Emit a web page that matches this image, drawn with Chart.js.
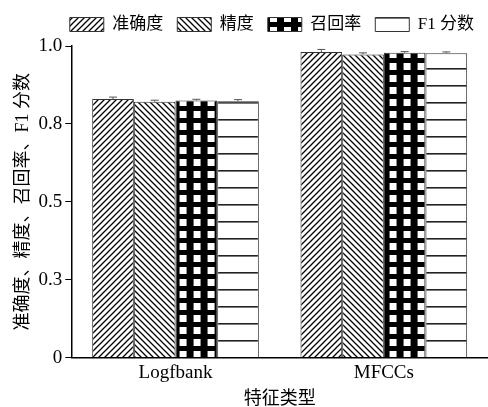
<!DOCTYPE html>
<html>
<head>
<meta charset="utf-8">
<script src="https://cdn.jsdelivr.net/npm/chart.js@4/dist/chart.umd.min.js"></script>
<style>
  html, body { margin: 0; padding: 0; background: #fff; }
  #wrap { width: 488px; height: 407px; }
</style>
</head>
<body>
<div id="wrap"><canvas id="chart"></canvas></div>
<script>
const categories = ['Logfbank', 'MFCCs'];
const seriesNames = ['准确度', '精度', '召回率', 'F1 分数'];
const accuracy = [0.830, 0.981];
const precision = [0.821, 0.973];
const recall = [0.825, 0.978];
const f1 = [0.823, 0.977];
const accuracyErr = [0.006, 0.008];
const precisionErr = [0.005, 0.005];
const recallErr = [0.004, 0.004];
const f1Err = [0.005, 0.004];
const yTicks = [0, 0.25, 0.5, 0.75, 1.0];
const yTickLabels = ['0', '0.3', '0.5', '0.8', '1.0'];

const serif = '"Liberation Serif", "Noto Sans CJK SC", serif';

const makePattern = (w, h, draw) => {
  const c = document.createElement('canvas');
  c.width = w; c.height = h;
  const g = c.getContext('2d');
  draw(g, w, h);
  return g.createPattern(c, 'repeat');
};

// "/" hatch
const slashPattern = makePattern(6, 6, (g, w, h) => {
  g.fillStyle = '#fff'; g.fillRect(0, 0, w, h);
  g.strokeStyle = '#000'; g.lineWidth = 1.3;
  g.beginPath();
  g.moveTo(-1, h + 1); g.lineTo(w + 1, -1);
  g.moveTo(-1, 1); g.lineTo(1, -1);
  g.moveTo(w - 1, h + 1); g.lineTo(w + 1, h - 1);
  g.stroke();
});

// "\" hatch
const backslashPattern = makePattern(6, 6, (g, w, h) => {
  g.fillStyle = '#fff'; g.fillRect(0, 0, w, h);
  g.strokeStyle = '#000'; g.lineWidth = 1.3;
  g.beginPath();
  g.moveTo(-1, -1); g.lineTo(w + 1, h + 1);
  g.moveTo(w - 1, -1); g.lineTo(w + 1, 1);
  g.moveTo(-1, h - 1); g.lineTo(1, h + 1);
  g.stroke();
});

// black with white squares
const gridPattern = makePattern(14, 12, (g, w, h) => {
  g.fillStyle = '#000'; g.fillRect(0, 0, w, h);
  g.fillStyle = '#fff'; g.fillRect(4, 3, 7, 7);
});

// horizontal lines
const linePattern = makePattern(8, 17, (g, w, h) => {
  g.fillStyle = '#fff'; g.fillRect(0, 0, w, h);
  g.fillStyle = '#222'; g.fillRect(0, 0, w, 1.6);
});

const errors = [accuracyErr, precisionErr, recallErr, f1Err];

const errorBars = {
  id: 'errorBars',
  beforeDatasetsDraw(chart) {
    const b = chart.getDatasetMeta(2).data[0];
    if (b) gridPattern.setTransform(new DOMMatrix().translate(b.x - b.width / 2, 0));
  },
  afterDatasetsDraw(chart) {
    const ctx = chart.ctx;
    const y = chart.scales.y;
    ctx.save();
    ctx.strokeStyle = '#555';
    ctx.lineWidth = 1;
    chart.data.datasets.forEach((ds, i) => {
      chart.getDatasetMeta(i).data.forEach((bar, j) => {
        const v = ds.data[j];
        const e = errors[i][j];
        const top = y.getPixelForValue(v + e);
        const base = y.getPixelForValue(v);
        ctx.beginPath();
        ctx.moveTo(bar.x, base);
        ctx.lineTo(bar.x, top);
        ctx.moveTo(bar.x - 4, top);
        ctx.lineTo(bar.x + 4, top);
        ctx.stroke();
      });
    });
    ctx.restore();
  }
};

// a little more room under the legend
const legendGap = {
  id: 'legendGap',
  beforeInit(chart) {
    const fit = chart.legend.fit;
    chart.legend.fit = function () {
      fit.call(this);
      this.height += 3;
    };
  }
};

new Chart(document.getElementById('chart'), {
  type: 'bar',
  data: {
    labels: categories,
    datasets: [
      { label: seriesNames[0], data: accuracy, backgroundColor: slashPattern },
      { label: seriesNames[1], data: precision, backgroundColor: backslashPattern },
      { label: seriesNames[2], data: recall, backgroundColor: gridPattern },
      { label: seriesNames[3], data: f1, backgroundColor: linePattern },
    ].map(d => ({ ...d, borderColor: '#333', borderWidth: 1, categoryPercentage: 0.8, barPercentage: 1.0 }))
  },
  options: {
    responsive: true,
    maintainAspectRatio: false,
    animation: false,
    layout: { padding: { top: 2, right: 0, bottom: -3, left: 8 } },
    plugins: {
      legend: {
        position: 'top',
        align: 'end',
        labels: {
          boxWidth: 34,
          boxHeight: 14,
          padding: 14,
          color: '#000',
          font: { family: serif, size: 17 }
        }
      },
      tooltip: { enabled: false }
    },
    scales: {
      x: {
        grid: { display: false, drawTicks: false },
        border: { display: true, color: '#000', width: 1.5 },
        ticks: { color: '#000', font: { family: serif, size: 19 }, padding: 4 },
        title: { display: true, text: '特征类型', color: '#000', font: { family: serif, size: 18 }, padding: { top: 0, bottom: 0 } }
      },
      y: {
        min: 0,
        max: 1,
        afterBuildTicks: axis => { axis.ticks = yTicks.map(v => ({ value: v })); },
        grid: { drawOnChartArea: false, color: '#000', tickLength: 6 },
        border: { display: true, color: '#000', width: 1.5 },
        ticks: { color: '#000', font: { family: serif, size: 19 }, padding: 3, callback: (v, i) => yTickLabels[i] },
        title: { display: true, text: '准确度、精度、召回率、F1 分数', color: '#000', font: { family: serif, size: 18 }, padding: { bottom: 2 } }
      }
    }
  },
  plugins: [errorBars, legendGap]
});
</script>
</body>
</html>
